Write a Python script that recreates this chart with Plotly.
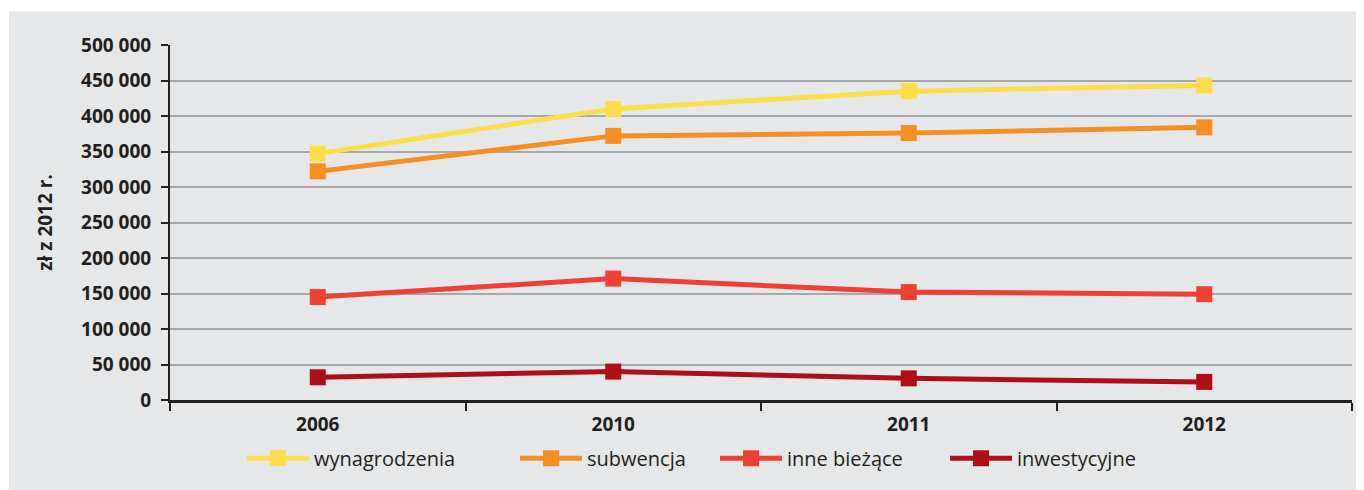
import plotly.graph_objects as go

# Wydatki wg kategorii, zł z 2012 r.
years = ["2006", "2010", "2011", "2012"]
wynagrodzenia = [347000, 410000, 435000, 443000]
subwencja = [322000, 372000, 376000, 384000]
inne_biezace = [145000, 171000, 152000, 149000]
inwestycyjne = [32000, 40000, 30500, 25500]

series = [
    ("wynagrodzenia", wynagrodzenia, "#fedd4a"),
    ("subwencja", subwencja, "#f58f22"),
    ("inne bieżące", inne_biezace, "#ee4131"),
    ("inwestycyjne", inwestycyjne, "#ae0e16"),
]
# one legend per series so the entries can be spread like the original
legend_ids = ["legend", "legend2", "legend3", "legend4"]
legend_x = [0.0609, 0.2919, 0.4611, 0.6557]

fig = go.Figure()
for (name, vals, color), lid in zip(series, legend_ids):
    fig.add_trace(go.Scatter(
        x=years,
        y=vals,
        name=name,
        mode="lines+markers",
        line=dict(color=color, width=5),
        marker=dict(symbol="square", size=16, color=color),
        legend=lid,
    ))

# grey panel behind everything (white strip on top and left)
fig.add_shape(
    type="rect", xref="paper", yref="paper",
    x0=-0.1362, x1=1.011, y0=-0.26, y1=1.0947,
    fillcolor="#e6e7e8", line=dict(width=0), layer="below",
)

legend_style = dict(
    orientation="h",
    xanchor="left",
    y=-0.164,
    yanchor="middle",
    font=dict(size=20, family="Open Sans", color="#231f20"),
    itemwidth=62,
    bgcolor="rgba(0,0,0,0)",
)
legends = {lid: dict(legend_style, x=lx) for lid, lx in zip(legend_ids, legend_x)}

fig.update_layout(
    width=1356,
    height=482,
    margin=dict(l=162, r=12, t=37, b=82),
    paper_bgcolor="white",
    plot_bgcolor="rgba(0,0,0,0)",
    separators=", ",
    font=dict(family="Open Sans", color="#231f20"),
    showlegend=True,
    **legends,
    xaxis=dict(
        type="category",
        range=[-0.5, 3.5],
        tickson="boundaries",
        ticks="outside",
        ticklen=8,
        tickwidth=2,
        tickcolor="#231f20",
        showline=True,
        linecolor="#231f20",
        linewidth=2.5,
        showgrid=False,
        ticklabelstandoff=5,
        tickfont=dict(size=19, family="Open Sans", weight="bold"),
        fixedrange=True,
    ),
    yaxis=dict(
        range=[0, 500000],
        dtick=50000,
        tickformat=",d",
        ticks="outside",
        ticklen=7,
        tickwidth=2,
        tickcolor="#231f20",
        showline=True,
        linecolor="#231f20",
        linewidth=2,
        showgrid=True,
        gridcolor="#a6a8ab",
        gridwidth=1.5,
        zeroline=False,
        ticklabelstandoff=6,
        tickfont=dict(size=19, family="Open Sans", weight="bold"),
        title=dict(
            text="zł z 2012 r.",
            font=dict(size=19, family="Open Sans", weight="bold"),
            standoff=23,
        ),
        fixedrange=True,
    ),
)

fig.write_html("out.html")
